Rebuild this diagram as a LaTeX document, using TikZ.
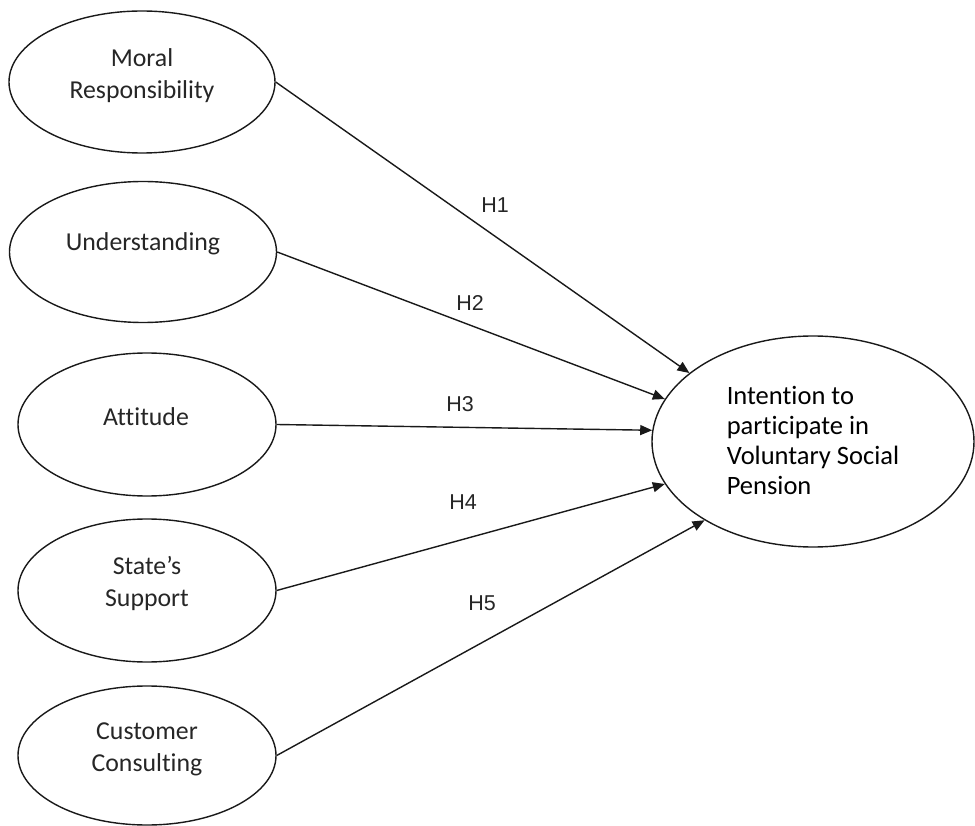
\documentclass[tikz,border=0pt]{standalone}
\usepackage{fontspec}
\setmainfont{Carlito}[Ligatures=NoCommon]
\newfontfamily\hfont{Liberation Sans}
\usetikzlibrary{shapes.geometric,arrows.meta}
\begin{document}
\begin{tikzpicture}[x=1pt,y=-1pt,
  oval/.style={draw=black!90, line width=1.4pt, ellipse, inner sep=0pt},
  lbl/.style={font=\fontsize{25.8}{32}\selectfont, text=black!85, align=center, inner sep=0pt},
  hyp/.style={font=\hfont\fontsize{21.5}{25}\selectfont, text=black!85, inner sep=0pt},
  conn/.style={draw=black!90, line width=1.4pt, -{Triangle[length=12pt,width=10pt]}}]
\useasboundingbox (0,0) rectangle (975,826);
\node[oval, minimum width=266pt, minimum height=142pt] (m) at (142,82) {};
\node[oval, minimum width=267pt, minimum height=141pt] (u) at (143,252) {};
\node[oval, minimum width=258pt, minimum height=143pt] (a) at (147,424.5) {};
\node[oval, minimum width=258pt, minimum height=143pt] (s) at (147,590.5) {};
\node[oval, minimum width=258pt, minimum height=139pt] (c) at (147,755.5) {};
\node[oval, minimum width=322pt, minimum height=211pt] (t) at (813,441.5) {};
\node[lbl] (mt) at (142,76) {Moral\\Responsibility};
\node[lbl] (ut) at (143,244) {Understanding};
\node[lbl] (at) at (146,417) {Attitude};
\node[lbl] (st) at (147,583) {State’s\\Support};
\node[lbl] (ct) at (147,749) {Customer\\Consulting};
\node[lbl, font=\fontsize{26.5}{30}\selectfont, align=left, text=black] (tt) at (813,440) {Intention to\\participate in\\Voluntary Social\\Pension};
\draw[conn] (m.east) -- (t.151);
\draw[conn] (u.east) -- (t.164.4);
\draw[conn] (a.east) -- (t.176.8);
\draw[conn] (s.east) -- (t.196);
\draw[conn] (c.east) -- (t.216);
\node[hyp] (h1) at (495,205) {H1};
\node[hyp] (h2) at (470,303) {H2};
\node[hyp] (h3) at (460,404) {H3};
\node[hyp] (h4) at (463,502) {H4};
\node[hyp] (h5) at (482,603) {H5};
\end{tikzpicture}
\end{document}
